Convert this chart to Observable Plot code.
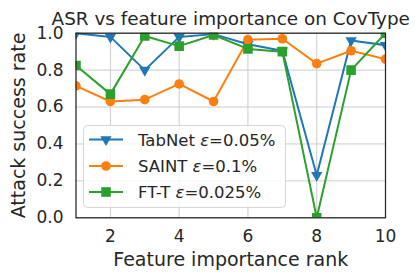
<!DOCTYPE html>
<html>
<head>
<meta charset="utf-8">
<script src="https://cdn.jsdelivr.net/npm/d3@7"></script>
<script src="https://cdn.jsdelivr.net/npm/@observablehq/plot@0.6"></script>
<style>
  html, body { margin: 0; padding: 0; background: #fff; }
  #wrap { position: relative; width: 415px; height: 280px; font-family: "DejaVu Sans", sans-serif; }
  #legend { position: absolute; left: 0; top: 0; pointer-events: none; }
</style>
</head>
<body>
<div id="wrap"></div>
<script>
// ---- data ----
const ranks = [1, 2, 3, 4, 5, 6, 7, 8, 9, 10];
const tabnet = [1.0, 0.98, 0.80, 0.98, 0.995, 0.94, 0.905, 0.23, 0.96, 0.935];
const saint  = [0.715, 0.63, 0.64, 0.725, 0.63, 0.965, 0.97, 0.835, 0.905, 0.86];
const ftt    = [0.825, 0.67, 0.985, 0.93, 0.99, 0.915, 0.90, 0.0, 0.80, 1.0];
const seriesNames = ["TabNet", "SAINT", "FT-T"];
const seriesEps = ["0.05%", "0.1%", "0.025%"];
const xTicks = [2, 4, 6, 8, 10];
const yTicks = [0, 0.2, 0.4, 0.6, 0.8, 1.0];
const titleText = "ASR vs feature importance on CovType";
const xLabel = "Feature importance rank";
const yLabel = "Attack success rate";

const colors = ["#1f77b4", "#ff7f0e", "#2ca02c"];
const triangleDown = {
  draw(ctx, size) {
    const y = -Math.sqrt(size / (Math.sqrt(3) * 3));
    ctx.moveTo(0, -y * 2);
    ctx.lineTo(-Math.sqrt(3) * y, y);
    ctx.lineTo(Math.sqrt(3) * y, y);
    ctx.closePath();
  }
};
const symbols = [triangleDown, d3.symbolCircle, d3.symbolSquare];
const radii = [4.2, 4.8, 5.4];

const seriesVals = [tabnet, saint, ftt];
const tables = seriesVals.map(vals => ranks.map((r, i) => ({x: r, y: vals[i]})));

const W = 415, H = 280;
const mL = 75.5, mR = 30, mT = 32.7, mB = 62.7;

const marks = [
  Plot.gridX(xTicks, {stroke: "#cccccc", strokeOpacity: 1, strokeWidth: 1}),
  Plot.gridY(yTicks, {stroke: "#cccccc", strokeOpacity: 1, strokeWidth: 1}),
];
tables.forEach((t, i) => {
  marks.push(Plot.line(t, {x: "x", y: "y", stroke: colors[i], strokeWidth: 2, clip: "frame"}));
  marks.push(Plot.dot(t, {x: "x", y: "y", symbol: symbols[i], r: radii[i], fill: colors[i], stroke: "none", clip: "frame"}));
});
marks.push(
  Plot.frame({stroke: "#262626", strokeWidth: 1.25}),
  Plot.axisX(xTicks, {tickSize: 0, tickPadding: 12, fontSize: 17, fill: "#262626", label: null}),
  Plot.axisY(yTicks, {tickSize: 0, tickPadding: 12.5, fontSize: 17, fill: "#262626", label: null, tickFormat: d3.format(".1f")}),
  Plot.text([titleText], {frameAnchor: "top", dy: -14, fontSize: 18.4, fill: "#262626", lineAnchor: "middle"}),
  Plot.text([xLabel], {frameAnchor: "bottom", dy: 42.3, fontSize: 19, fill: "#262626", lineAnchor: "middle"}),
  Plot.text([yLabel], {frameAnchor: "left", textAnchor: "middle", dx: -56.6, rotate: -90, fontSize: 19, fill: "#262626", lineAnchor: "middle"})
);

const chart = Plot.plot({
  width: W, height: H,
  marginLeft: mL, marginRight: mR, marginTop: mT, marginBottom: mB,
  style: {fontFamily: "DejaVu Sans", background: "#fff", overflow: "visible"},
  x: {domain: [1, 10]},
  y: {domain: [0, 1]},
  marks
});
const wrap = document.getElementById("wrap");
wrap.appendChild(chart);

// ---- legend ----
const lg = d3.select(wrap).append("svg").attr("id", "legend")
  .attr("width", W).attr("height", H)
  .style("font-family", "DejaVu Sans");
lg.append("rect").attr("x", 83.5).attr("y", 125.5).attr("width", 202).attr("height", 82)
  .attr("rx", 4).attr("fill", "#fff").attr("fill-opacity", 0.8)
  .attr("stroke", "#d6d6d6").attr("stroke-width", 1);
const rowY = [139.5, 166, 192];
seriesNames.forEach((name, i) => {
  const g = lg.append("g");
  g.append("line").attr("x1", 89).attr("x2", 123).attr("y1", rowY[i]).attr("y2", rowY[i])
    .attr("stroke", colors[i]).attr("stroke-width", 2);
  const sym = d3.symbol().type(symbols[i]).size(radii[i] * radii[i] * Math.PI);
  g.append("path").attr("d", sym()).attr("transform", `translate(106,${rowY[i]})`).attr("fill", colors[i]);
  const t = g.append("text").attr("x", 138).attr("y", rowY[i] + 6)
    .attr("font-size", 16.5).attr("fill", "#262626");
  t.append("tspan").text(name + " ");
  t.append("tspan").attr("font-style", "italic").text("ε");
  t.append("tspan").text("=" + seriesEps[i]);
});
</script>
</body>
</html>
